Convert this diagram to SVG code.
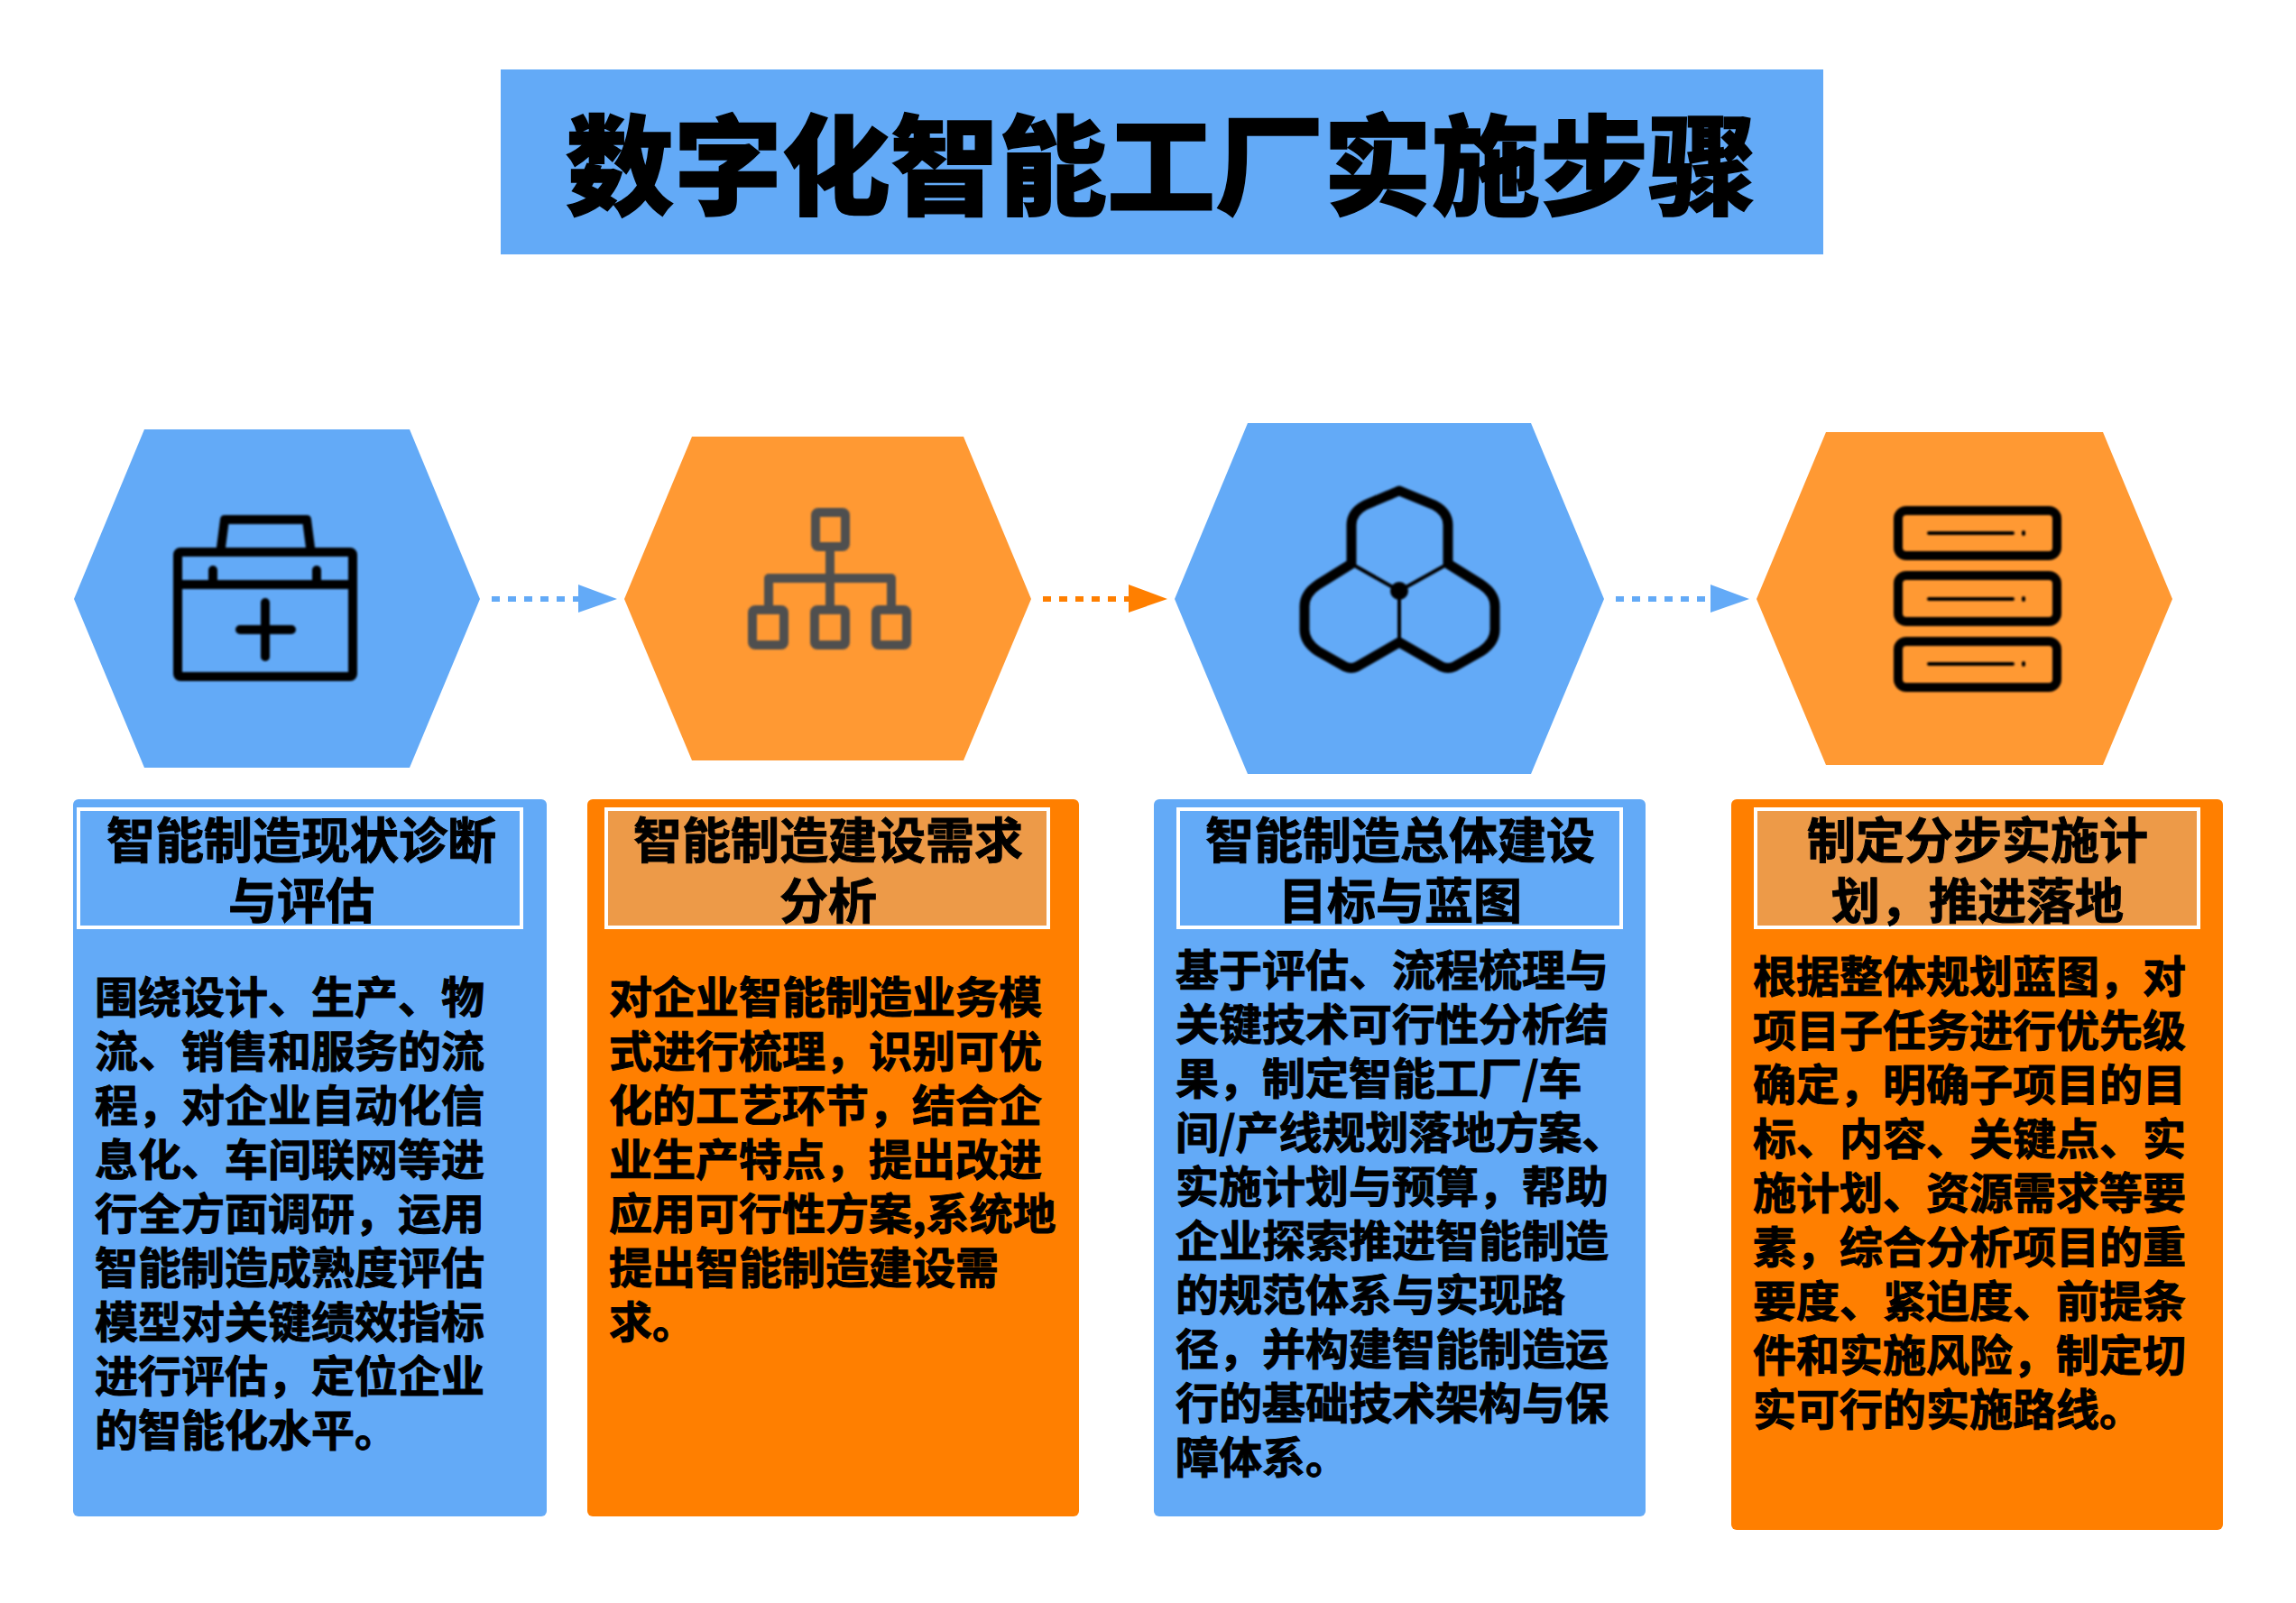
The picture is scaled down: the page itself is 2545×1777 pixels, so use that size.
<svg xmlns="http://www.w3.org/2000/svg" width="2545" height="1777" viewBox="0 0 2545 1777">
<style>
text{font-family:"Noto Sans CJK SC","Noto Sans CJK TC",sans-serif;font-weight:700;fill:#000}
.title{font-size:120px;font-weight:900;text-anchor:middle;stroke:#000;stroke-width:1.5px}
.hd{font-size:54px;text-anchor:middle;stroke:#000;stroke-width:1px}
.bd{font-size:48px;stroke:#000;stroke-width:1px}
.blue{fill:#63AAF7}.hexo{fill:#FF9933}.orange{fill:#FF7F00}.hdo{fill:#ED9A48;stroke:#fff;stroke-width:4}.hdb{fill:#63AAF7;stroke:#fff;stroke-width:4}
.ic{fill:none;stroke:#000;stroke-width:10;stroke-linejoin:round;stroke-linecap:round;filter:url(#soft)}
.dashb{fill:none;stroke:#63AAF7;stroke-width:6;stroke-dasharray:9 9}
.dasho{fill:none;stroke:#FF7F00;stroke-width:6;stroke-dasharray:9 9}
</style>
<defs><filter id="soft" x="-10%" y="-10%" width="120%" height="120%"><feGaussianBlur stdDeviation="1.2"/></filter></defs>
<rect width="2545" height="1777" fill="#fff"/>
<g id="title"><rect class="blue" x="555" y="77" width="1466" height="205"/><text class="title" x="1287" y="229">数字化智能工厂实施步骤</text></g>
<g id="connectors">
<path class="dashb" d="M545 664H641"/><path class="blue" d="M641 648L684 664L641 679Z"/>
<path class="dasho" d="M1156 664H1251"/><path class="orange" d="M1251 648L1294 664L1251 679Z"/>
<path class="dashb" d="M1791 664H1896"/><path class="blue" d="M1896 648L1939 664L1896 679Z"/>
</g>
<g id="hex1"><path class="blue" d="M82 664L160 476H454L532 664L454 851H160Z"/>
<g class="ic"><rect x="197" y="612" width="194" height="138" rx="3"/><path d="M197 648H391M245 607L249 576H340L344 607M236 632V648M351 632V648M294 668V728M266 698H323"/></g></g>
<g id="hex2"><path class="hexo" d="M692 664L767 484H1068L1143 664L1068 843H767Z"/>
<g class="ic" style="stroke:#505050"><rect x="904" y="568" width="33" height="38" rx="3"/><path d="M920 606V672M852 672V641H988V672"/><rect x="834" y="676" width="35" height="39" rx="3"/><rect x="903" y="676" width="34" height="39" rx="3"/><rect x="971" y="676" width="34" height="39" rx="3"/></g></g>
<g id="hex3"><path class="blue" d="M1302 664L1383 469H1697L1778 664L1697 858H1383Z"/>
<g class="ic"><path style="stroke-width:11" d="M1551 544Q1556 546 1590 560Q1605 568 1605 582V625L1642 648Q1657 658 1657 672V698Q1657 712 1642 722L1612 739Q1605 742 1598 739L1551 712L1504 739Q1498 742 1491 739L1461 722Q1446 712 1446 698V672Q1446 658 1461 648L1498 625V582Q1498 568 1513 560Q1546 546 1551 544Z"/><path style="stroke-width:4" d="M1498 625L1551 655L1605 625M1551 655V712"/><circle cx="1551" cy="655" r="5"/></g></g>
<g id="hex4"><path class="hexo" d="M1947 664L2024 479H2331L2408 664L2331 848H2024Z"/>
<g class="ic"><rect x="2104" y="566" width="176" height="50" rx="9"/><rect x="2104" y="638" width="176" height="51" rx="9"/><rect x="2104" y="711" width="176" height="51" rx="9"/><path style="stroke-width:4" d="M2138 591H2231M2138 664H2231M2138 736H2231M2243 590V592M2243 663V665M2243 735V737"/></g></g>
<g id="card1"><rect class="blue" x="81" y="886" width="525" height="795" rx="6"/><rect class="hdb" x="87" y="897" width="491" height="131"/>
<text class="hd" x="334" y="952">智能制造现状诊断</text><text class="hd" x="334" y="1019">与评估</text>
<text class="bd" x="105" y="1123">围绕设计、生产、物</text><text class="bd" x="105" y="1183">流、销售和服务的流</text><text class="bd" x="105" y="1243">程，对企业自动化信</text><text class="bd" x="105" y="1303">息化、车间联网等进</text><text class="bd" x="105" y="1363">行全方面调研，运用</text><text class="bd" x="105" y="1423">智能制造成熟度评估</text><text class="bd" x="105" y="1483">模型对关键绩效指标</text><text class="bd" x="105" y="1543">进行评估，定位企业</text><text class="bd" x="105" y="1603">的智能化水平。</text></g>
<g id="card2"><rect class="orange" x="651" y="886" width="545" height="795" rx="6"/><rect class="hdo" x="672" y="897" width="490" height="131"/>
<text class="hd" x="918" y="952">智能制造建设需求</text><text class="hd" x="918" y="1019">分析</text>
<text class="bd" x="675" y="1123">对企业智能制造业务模</text><text class="bd" x="675" y="1183">式进行梳理，识别可优</text><text class="bd" x="675" y="1243">化的工艺环节，结合企</text><text class="bd" x="675" y="1303">业生产特点，提出改进</text><text class="bd" x="675" y="1363">应用可行性方案,系统地</text><text class="bd" x="675" y="1423">提出智能制造建设需</text><text class="bd" x="675" y="1483">求。</text></g>
<g id="card3"><rect class="blue" x="1279" y="886" width="545" height="795" rx="6"/><rect class="hdb" x="1306" y="897" width="491" height="131"/>
<text class="hd" x="1552" y="952">智能制造总体建设</text><text class="hd" x="1552" y="1019">目标与蓝图</text>
<text class="bd" x="1303" y="1093">基于评估、流程梳理与</text><text class="bd" x="1303" y="1153">关键技术可行性分析结</text><text class="bd" x="1303" y="1213">果，制定智能工厂/车</text><text class="bd" x="1303" y="1273">间/产线规划落地方案、</text><text class="bd" x="1303" y="1333">实施计划与预算，帮助</text><text class="bd" x="1303" y="1393">企业探索推进智能制造</text><text class="bd" x="1303" y="1453">的规范体系与实现路</text><text class="bd" x="1303" y="1513">径，并构建智能制造运</text><text class="bd" x="1303" y="1573">行的基础技术架构与保</text><text class="bd" x="1303" y="1633">障体系。</text></g>
<g id="card4"><rect class="orange" x="1919" y="886" width="545" height="810" rx="6"/><rect class="hdo" x="1946" y="897" width="491" height="131"/>
<text class="hd" x="2192" y="952">制定分步实施计</text><text class="hd" x="2192" y="1019">划，推进落地</text>
<text class="bd" x="1943" y="1100">根据整体规划蓝图，对</text><text class="bd" x="1943" y="1160">项目子任务进行优先级</text><text class="bd" x="1943" y="1220">确定，明确子项目的目</text><text class="bd" x="1943" y="1280">标、内容、关键点、实</text><text class="bd" x="1943" y="1340">施计划、资源需求等要</text><text class="bd" x="1943" y="1400">素，综合分析项目的重</text><text class="bd" x="1943" y="1460">要度、紧迫度、前提条</text><text class="bd" x="1943" y="1520">件和实施风险，制定切</text><text class="bd" x="1943" y="1580">实可行的实施路线。</text></g>
</svg>
